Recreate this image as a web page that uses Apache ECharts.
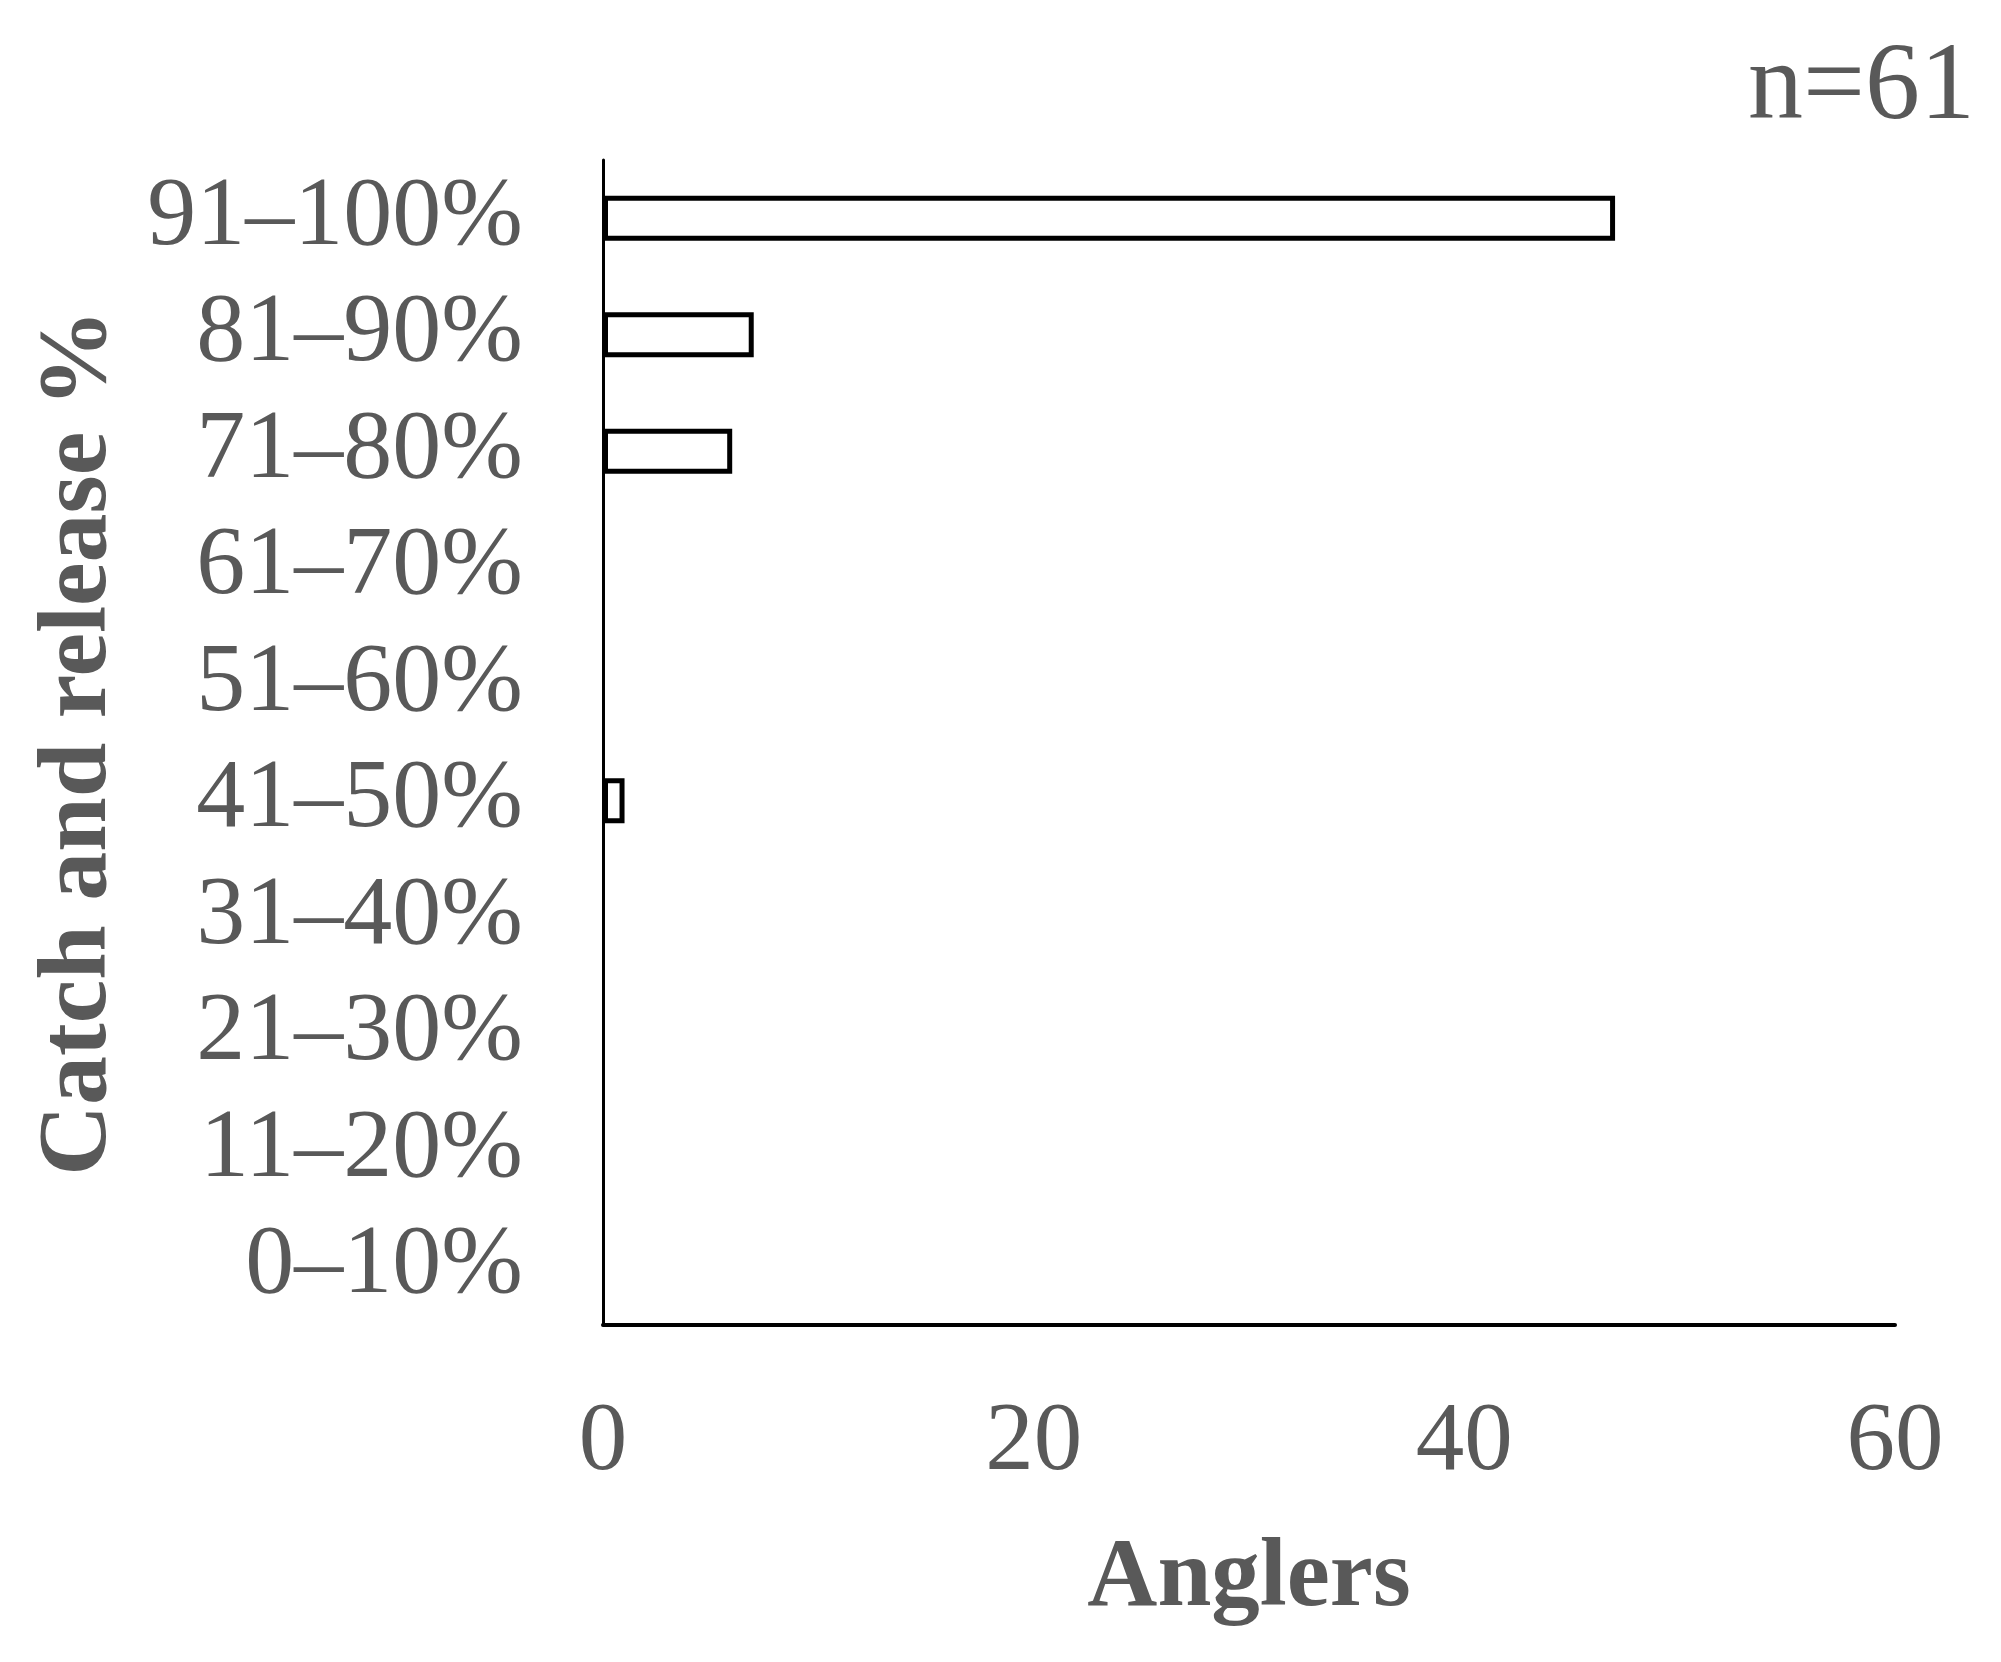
<!DOCTYPE html>
<html>
<head>
<meta charset="utf-8">
<title>Catch and release</title>
<script src="https://cdn.jsdelivr.net/npm/echarts@6/dist/echarts.min.js"></script>
<style>
  html, body { margin: 0; padding: 0; background: #fff; }
  #main { width: 2001px; height: 1662px; }
</style>
</head>
<body>
<div id="main"></div>
<script>
// categories from bottom to top
var categories = ['0–10%', '11–20%', '21–30%', '31–40%', '41–50%',
                  '51–60%', '61–70%', '71–80%', '81–90%', '91–100%'];
// number of anglers per class
var anglers = [0, 0, 0, 0, 1, 0, 0, 6, 7, 47];
var xTicks = [0, 20, 40, 60];
var sampleNote = 'n=61';

var textGray = '#595959';
var serif = '"Liberation Serif", "Times New Roman", serif';

var myChart = echarts.init(document.getElementById('main'));

// empty classes get no outline, otherwise a zero-length border shows on the axis
var barData = anglers.map(function (v) {
    return v === 0 ? { value: v, itemStyle: { borderWidth: 0 } } : v;
});

var option = {
    backgroundColor: '#fff',
    animation: false,
    grid: { left: 603, right: 106, top: 160, bottom: 337 },
    xAxis: {
        type: 'value',
        min: xTicks[0],
        max: xTicks[xTicks.length - 1],
        interval: 20,
        name: 'Anglers',
        nameLocation: 'middle',
        nameGap: 206,
        nameTextStyle: { color: textGray, fontFamily: serif, fontSize: 97, fontWeight: 'bold' },
        axisLine: { show: true, lineStyle: { color: '#000', width: 4 } },
        axisTick: { show: false },
        splitLine: { show: false },
        axisLabel: { color: textGray, fontFamily: serif, fontSize: 97, margin: 70 }
    },
    yAxis: {
        type: 'category',
        data: categories,
        name: 'Catch and release %',
        nameLocation: 'middle',
        nameRotate: 90,
        nameGap: 474,
        nameTextStyle: { color: textGray, fontFamily: serif, fontSize: 98, fontWeight: 'bold' },
        axisLine: { show: true, lineStyle: { color: '#000', width: 3 } },
        axisTick: { show: false },
        axisLabel: { interval: 0, color: textGray, fontFamily: serif, fontSize: 98, margin: 80 }
    },
    series: [{
        type: 'bar',
        data: barData,
        barWidth: 45,
        itemStyle: { color: '#fff', borderColor: '#000', borderWidth: 5 }
    }],
    graphic: [{
        type: 'text',
        x: 1975,
        y: 89,
        style: {
            text: sampleNote,
            fill: textGray,
            font: '110px ' + serif,
            textAlign: 'right',
            textVerticalAlign: 'middle'
        }
    }]
};
myChart.setOption(option);
</script>
</body>
</html>
